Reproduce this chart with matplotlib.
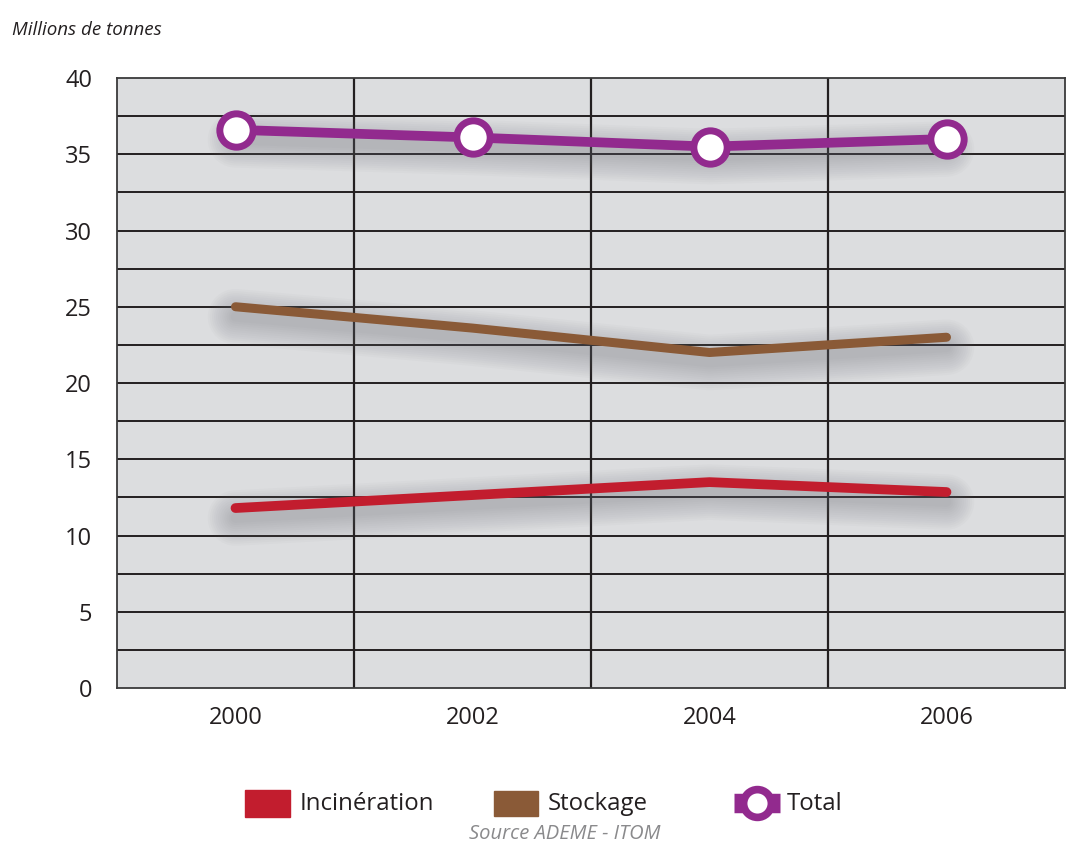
import matplotlib
matplotlib.use("Agg")
import matplotlib.pyplot as plt
from matplotlib.transforms import offset_copy
from matplotlib.patches import Rectangle
from matplotlib.lines import Line2D

plt.rcParams['font.family'] = ['Open Sans', 'DejaVu Sans']

years = ["2000", "2002", "2004", "2006"]
incineration = [11.8, 12.65, 13.5, 12.85]
stockage = [25.0, 23.6, 22.0, 23.0]
total = [36.6, 36.1, 35.5, 36.0]
yticks = [0, 5, 10, 15, 20, 25, 30, 35, 40]

RED = "#c21d2e"
BROWN = "#8a5a37"
PURPLE = "#922a8e"
GRID = "#231f20"
BG = "#dcdddf"

fig = plt.figure(figsize=(10.73, 8.55), dpi=100)
ax = fig.add_axes([117 / 1073, 1 - 688 / 855, (1065 - 117) / 1073, (688 - 78) / 855])
ax.set_facecolor(BG)
ax.set_xlim(-0.5, len(years) - 0.5)
ax.set_ylim(0, 40)

# horizontal grid every 2.5, vertical separators between years
for yv in [i * 2.5 for i in range(1, 16)]:
    ax.axhline(yv, color=GRID, lw=1.4, zorder=1)
for xv in [i + 0.5 for i in range(len(years) - 1)]:
    ax.axvline(xv, color=GRID, lw=1.6, zorder=1)

for sp in ax.spines.values():
    sp.set_color("#3a3a3a")
    sp.set_linewidth(1.3)

xs = list(range(len(years)))

# soft drop shadows under each line
shadow_tr = offset_copy(ax.transData, fig=fig, x=0, y=-10, units='dots')
for series in (incineration, stockage, total):
    for w in range(40, 6, -3):
        ax.plot(xs, series, color="#6e6f78", lw=w, alpha=0.03,
                solid_capstyle='round', solid_joinstyle='round',
                transform=shadow_tr, zorder=2)

ax.plot(xs, incineration, color=RED, lw=7, solid_capstyle='round',
        solid_joinstyle='round', zorder=3)
ax.plot(xs, stockage, color=BROWN, lw=6.5, solid_capstyle='round',
        solid_joinstyle='round', zorder=3)
ax.plot(xs, total, color=PURPLE, lw=7, solid_capstyle='round',
        solid_joinstyle='round', marker='o', markersize=24,
        markerfacecolor='white', markeredgecolor=PURPLE,
        markeredgewidth=5, zorder=4)

ax.set_xticks(xs)
ax.set_xticklabels(years)
ax.set_yticks(yticks)
ax.set_yticklabels([str(v) for v in yticks])
ax.tick_params(axis='both', length=0, labelsize=17, colors="#231f20")
ax.tick_params(axis='y', pad=18)
ax.tick_params(axis='x', pad=13)

fig.text(12 / 1073, 1 - 30 / 855, "Millions de tonnes", fontsize=13.5,
         style='italic', color="#231f20", ha='left', va='center')

# legend drawn in pixel coordinates
lg = fig.add_axes([0, 0, 1, 1], zorder=5)
lg.set_xlim(0, 1073)
lg.set_ylim(855, 0)
lg.axis('off')
lg.add_patch(Rectangle((245, 790), 45, 27, color=RED))
lg.text(300, 804, "Incinération", fontsize=17.3, color="#231f20", va='center', ha='left')
lg.add_patch(Rectangle((494, 791), 44, 25, color=BROWN))
lg.text(548, 804, "Stockage", fontsize=17.3, color="#231f20", va='center', ha='left')
lg.add_line(Line2D([734, 780], [803, 803], color=PURPLE, lw=14, solid_capstyle='butt'))
lg.add_line(Line2D([757], [803], marker='o', markersize=20, markerfacecolor='white',
                   markeredgecolor=PURPLE, markeredgewidth=5.5, color=PURPLE))
lg.text(787, 804, "Total", fontsize=17.3, color="#231f20", va='center', ha='left')
lg.text(565, 834, "Source ADEME - ITOM", fontsize=14.5, style='italic',
        color="#8a8a8c", va='center', ha='center')

fig.savefig("out.png", dpi=100)
